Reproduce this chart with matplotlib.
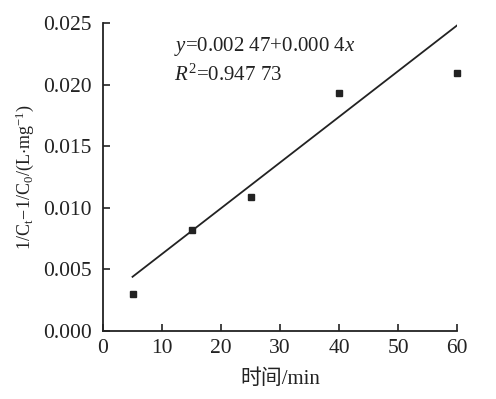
import numpy as np
import matplotlib
matplotlib.use('Agg')
import matplotlib.pyplot as plt

plt.rcParams['font.family'] = ['Liberation Serif', 'Noto Sans CJK SC']
plt.rcParams['mathtext.fontset'] = 'custom'
plt.rcParams['mathtext.rm'] = 'Liberation Serif'
plt.rcParams['mathtext.it'] = 'Liberation Serif:italic'

# data
time_min = [5, 15, 25, 40, 60]
inv_c = [0.0030, 0.0082, 0.0109, 0.0193, 0.0209]
fit_x = [5, 60]
fit_y = [0.0044, 0.0248]

x_ticks = [0, 10, 20, 30, 40, 50, 60]
y_ticks = [0.000, 0.005, 0.010, 0.015, 0.020, 0.025]

fig = plt.figure(figsize=(4.96, 3.99), dpi=100)
ax = fig.add_axes([0.2077, 0.1704, 0.7137, 0.772])

ax.plot(fit_x, fit_y, color='#222222', linewidth=1.3)
ax.plot(time_min, inv_c, 's', color='#222222', markersize=5, clip_on=False)

ax.set_xlim(0, 60)
ax.set_ylim(0, 0.025)
ax.set_xticks(x_ticks)
ax.set_yticks(y_ticks)
ax.set_yticklabels([f'{v:.3f}' for v in y_ticks])
ax.tick_params(direction='in', length=5, width=1.2, labelsize=15.5, colors='#222222')
ax.tick_params(axis='y', pad=8)
ax.tick_params(axis='x', pad=6)

for s in ['top', 'right']:
    ax.spines[s].set_visible(False)
for s in ['left', 'bottom']:
    ax.spines[s].set_linewidth(1.3)
    ax.spines[s].set_color('#222222')

ax.set_xlabel('时间/min', fontsize=15, color='#222222', labelpad=8)
ax.set_ylabel(r'$\mathregular{1/C_t\!-\!1/C_0/(L{\cdot}mg^{-1})}$', fontsize=13, color='#222222', labelpad=5)

ax.text(12, 0.0231, r'$y$=0.002 47+0.000 4$x$', fontsize=15, color='#222222', va='center')
ax.text(12, 0.0208, r'$R^2$=0.947 73', fontsize=15, color='#222222', va='center')

fig.savefig('out.png', dpi=100)
